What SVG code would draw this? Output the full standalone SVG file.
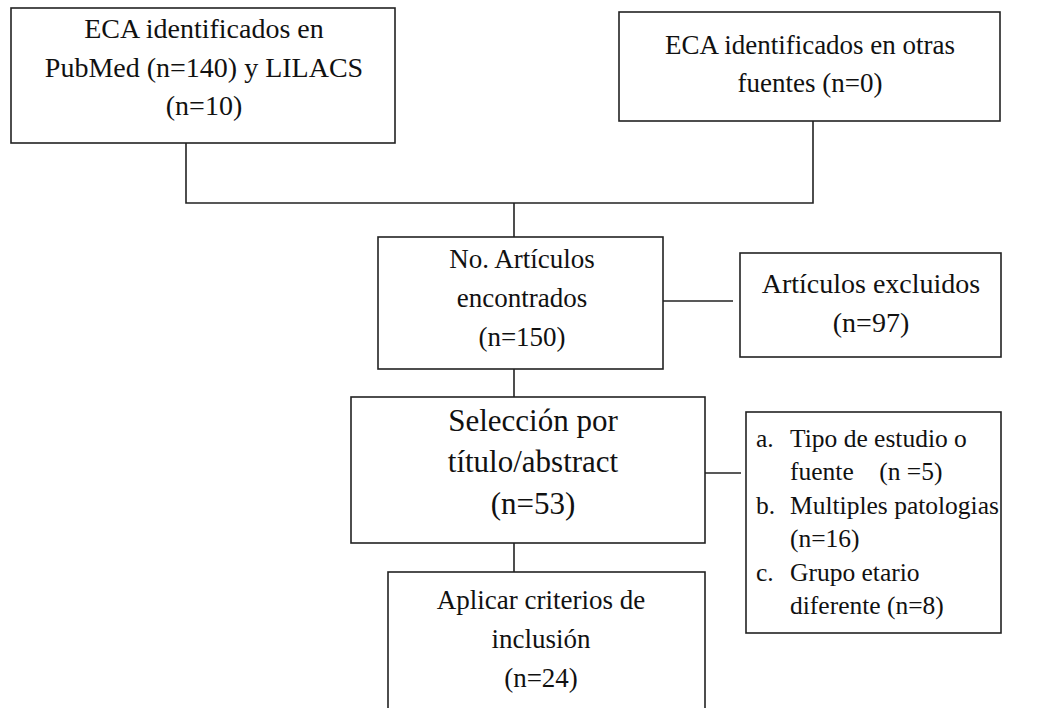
<svg xmlns="http://www.w3.org/2000/svg" width="1049" height="708" viewBox="0 0 1049 708">
<style>
.box{fill:#fff;stroke:#222;stroke-width:1.6}
.ln{fill:none;stroke:#222;stroke-width:1.6}
text{font-family:"Liberation Serif","Times New Roman",serif;fill:#111}
.c{text-anchor:middle}
.f28{font-size:28px}
.f27{font-size:27px}
.f25{font-size:25.5px}
.f31{font-size:31px}
</style>
<rect width="1049" height="708" fill="#fff"/>
<g id="connectors">
<polyline class="ln" points="186,143 186,203 813,203 813,121"/>
<line class="ln" x1="514" y1="203" x2="514" y2="237"/>
<line class="ln" x1="663" y1="301" x2="733" y2="301"/>
<line class="ln" x1="514" y1="369" x2="514" y2="397"/>
<line class="ln" x1="705" y1="473" x2="741" y2="473"/>
<line class="ln" x1="514" y1="543" x2="514" y2="572"/>
</g>
<g id="n1">
<rect class="box" x="11" y="8" width="384" height="135"/>
<text class="c f28" x="204" y="38">ECA identificados en</text>
<text class="c f28" x="204" y="77">PubMed (n=140) y LILACS</text>
<text class="c f28" x="204" y="115">(n=10)</text>
</g>
<g id="n2">
<rect class="box" x="619" y="12" width="381" height="109"/>
<text class="c f27" x="810" y="54">ECA identificados en otras</text>
<text class="c f27" x="810" y="92">fuentes (n=0)</text>
</g>
<g id="n3">
<rect class="box" x="378" y="237" width="285" height="132"/>
<text class="c f27" x="522" y="268">No. Artículos</text>
<text class="c f27" x="522" y="307">encontrados</text>
<text class="c f27" x="522" y="346">(n=150)</text>
</g>
<g id="n4">
<rect class="box" x="740" y="253" width="261" height="104"/>
<text class="c f28" x="871" y="293">Artículos excluidos</text>
<text class="c f28" x="871" y="332">(n=97)</text>
</g>
<g id="n5">
<rect class="box" x="351" y="397" width="354" height="146"/>
<text class="c f31" x="533" y="431">Selección por</text>
<text class="c f31" x="533" y="472">título/abstract</text>
<text class="c f31" x="533" y="514">(n=53)</text>
</g>
<g id="n6">
<rect class="box" x="746" y="412" width="255" height="221"/>
<g class="f25">
<text x="756" y="447">a.</text><text x="790" y="447">Tipo de estudio o</text>
<text x="790" y="480" xml:space="preserve">fuente    (n =5)</text>
<text x="756" y="514">b.</text><text x="790" y="514">Multiples patologias</text>
<text x="790" y="547">(n=16)</text>
<text x="756" y="581">c.</text><text x="790" y="581">Grupo etario</text>
<text x="790" y="614">diferente (n=8)</text>
</g>
</g>
<g id="n7">
<rect class="box" x="388" y="572" width="317" height="150"/>
<text class="c f27" x="541" y="609">Aplicar criterios de</text>
<text class="c f27" x="541" y="648">inclusión</text>
<text class="c f27" x="541" y="687">(n=24)</text>
</g>
</svg>
